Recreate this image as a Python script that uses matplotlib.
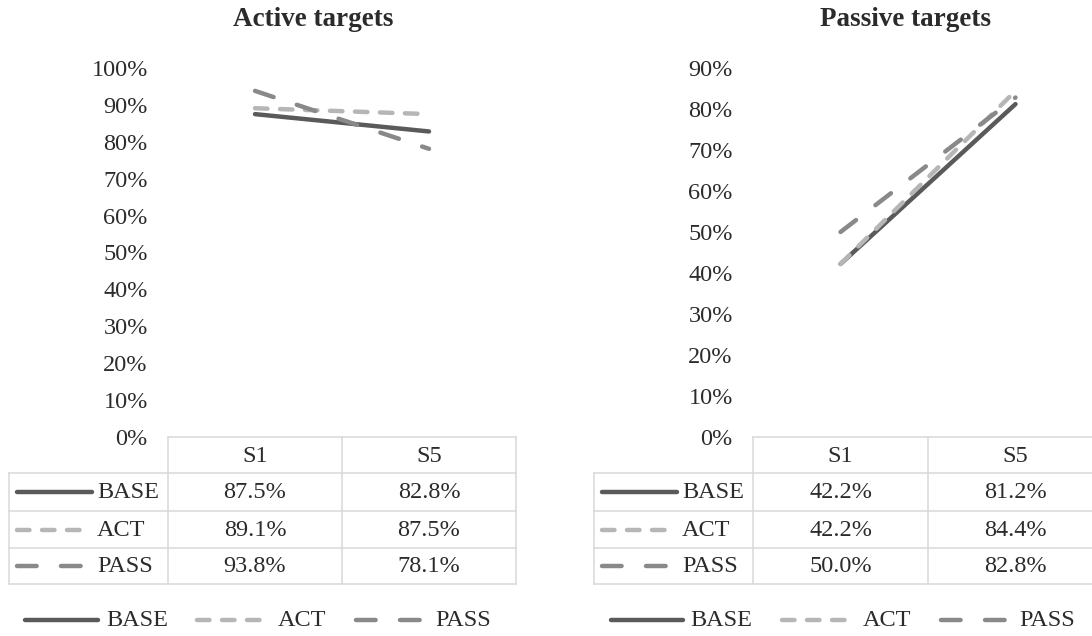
import matplotlib
matplotlib.use("Agg")
import matplotlib.pyplot as plt
from matplotlib.lines import Line2D

# ---- data ----
categories = ["S1", "S5"]
series_names = ["BASE", "ACT", "PASS"]

active_base = [87.5, 82.8]
active_act = [89.1, 87.5]
active_pass = [93.8, 78.1]

passive_base = [42.2, 81.2]
passive_act = [42.2, 84.4]
passive_pass = [50.0, 82.8]

active_ticks = [0, 10, 20, 30, 40, 50, 60, 70, 80, 90, 100]
passive_ticks = [0, 10, 20, 30, 40, 50, 60, 70, 80, 90]

# ---- styling ----
W, H = 1092, 636
plt.rcParams["font.family"] = ["Liberation Serif", "DejaVu Serif"]
plt.rcParams["lines.scale_dashes"] = False
TXT = "#2b2b2b"
GRID = "#d9d9d9"
FS = 17.5
LW = 3.2
styles = {
    "BASE": dict(color="#5a5a5a", linestyle="-"),
    "ACT": dict(color="#b6b6b6", linestyle=(0, (9.0, 9.0))),
    "PASS": dict(color="#898989", linestyle=(0, (14.1, 17.6))),
}

fig = plt.figure(figsize=(W / 100, H / 100), dpi=100)


def fx(x):
    return x / W


def fy(y):
    return 1 - y / H


def fline(x0, x1, y0, y1, **kw):
    fig.add_artist(Line2D([fx(x0), fx(x1)], [fy(y0), fy(y1)],
                          transform=fig.transFigure, **kw))


def key_line(x0, x1, y, name):
    fline(x0, x1, y, y, lw=LW, solid_capstyle="round",
          dash_capstyle="round", **styles[name])


def panel(title, title_x, col0, col_w, table_left, ylim, ticks, series):
    col1 = col0 + col_w
    col2 = col1 + col_w
    top, bottom = 68, 437
    ax = fig.add_axes([fx(col0), fy(bottom), (col2 - col0) / W, (bottom - top) / H])
    ax.set_xlim(-0.5, 1.5)
    ax.set_ylim(*ylim)
    for s in ax.spines.values():
        s.set_visible(False)
    ax.set_xticks([])
    ax.set_yticks(ticks)
    ax.set_yticklabels([f"{t}%" for t in ticks], fontsize=FS, color=TXT)
    ax.tick_params(axis="y", length=0, pad=14.5)
    ax.patch.set_alpha(0)
    x = list(range(len(categories)))
    for z, name in enumerate(series_names):
        ax.plot(x, series[name], lw=LW, solid_capstyle="round",
                dash_capstyle="round", zorder=3 + z, clip_on=False, **styles[name])

    fig.text(fx(title_x), fy(20), title, fontsize=19.5, fontweight="bold",
             ha="center", va="center", color=TXT)

    # data table
    rows = [437, 473, 511, 548, 584]
    grid_kw = dict(color=GRID, lw=1.1)
    fline(col0, col2, rows[0], rows[0], **grid_kw)
    for r in rows[1:]:
        fline(table_left, col2, r, r, **grid_kw)
    fline(table_left, table_left, rows[1], rows[-1], **grid_kw)
    for c in (col0, col1, col2):
        fline(c, c, rows[0], rows[-1], **grid_kw)
    centers = [col0 + col_w / 2, col1 + col_w / 2]
    for cx, cat in zip(centers, categories):
        fig.text(fx(cx), fy((rows[0] + rows[1]) / 2 + 1), cat, fontsize=FS,
                 ha="center", va="center", color=TXT)
    for i, name in enumerate(series_names):
        yc = (rows[i + 1] + rows[i + 2]) / 2
        kx1 = table_left + (83 if name == "BASE" else 76)
        key_line(table_left + 8, kx1, yc, name)
        fig.text(fx(table_left + 88), fy(yc + 1), name, fontsize=FS,
                 ha="left", va="center", color=TXT)
        for cx, v in zip(centers, series[name]):
            fig.text(fx(cx), fy(yc + 1), f"{v:.1f}%", fontsize=FS,
                     ha="center", va="center", color=TXT)
    return ax


panel("Active targets", 313, 168, 174, 9, (0, 100), active_ticks,
      {"BASE": active_base, "ACT": active_act, "PASS": active_pass})
panel("Passive targets", 905, 753, 175, 594, (0, 90), passive_ticks,
      {"BASE": passive_base, "ACT": passive_act, "PASS": passive_pass})

# bottom legends
legend_layout = [
    [(25, 98, 106), (197, 263, 278), (356, 425, 435)],
    [(611, 683, 690), (782, 847, 863), (941, 1007, 1019)],
]
for layout in legend_layout:
    for (x0, x1, tx), name in zip(layout, series_names):
        key_line(x0, x1, 620, name)
        fig.text(fx(tx), fy(621), name, fontsize=FS, ha="left", va="center", color=TXT)

fig.savefig("out.png", dpi=100, facecolor="white")
